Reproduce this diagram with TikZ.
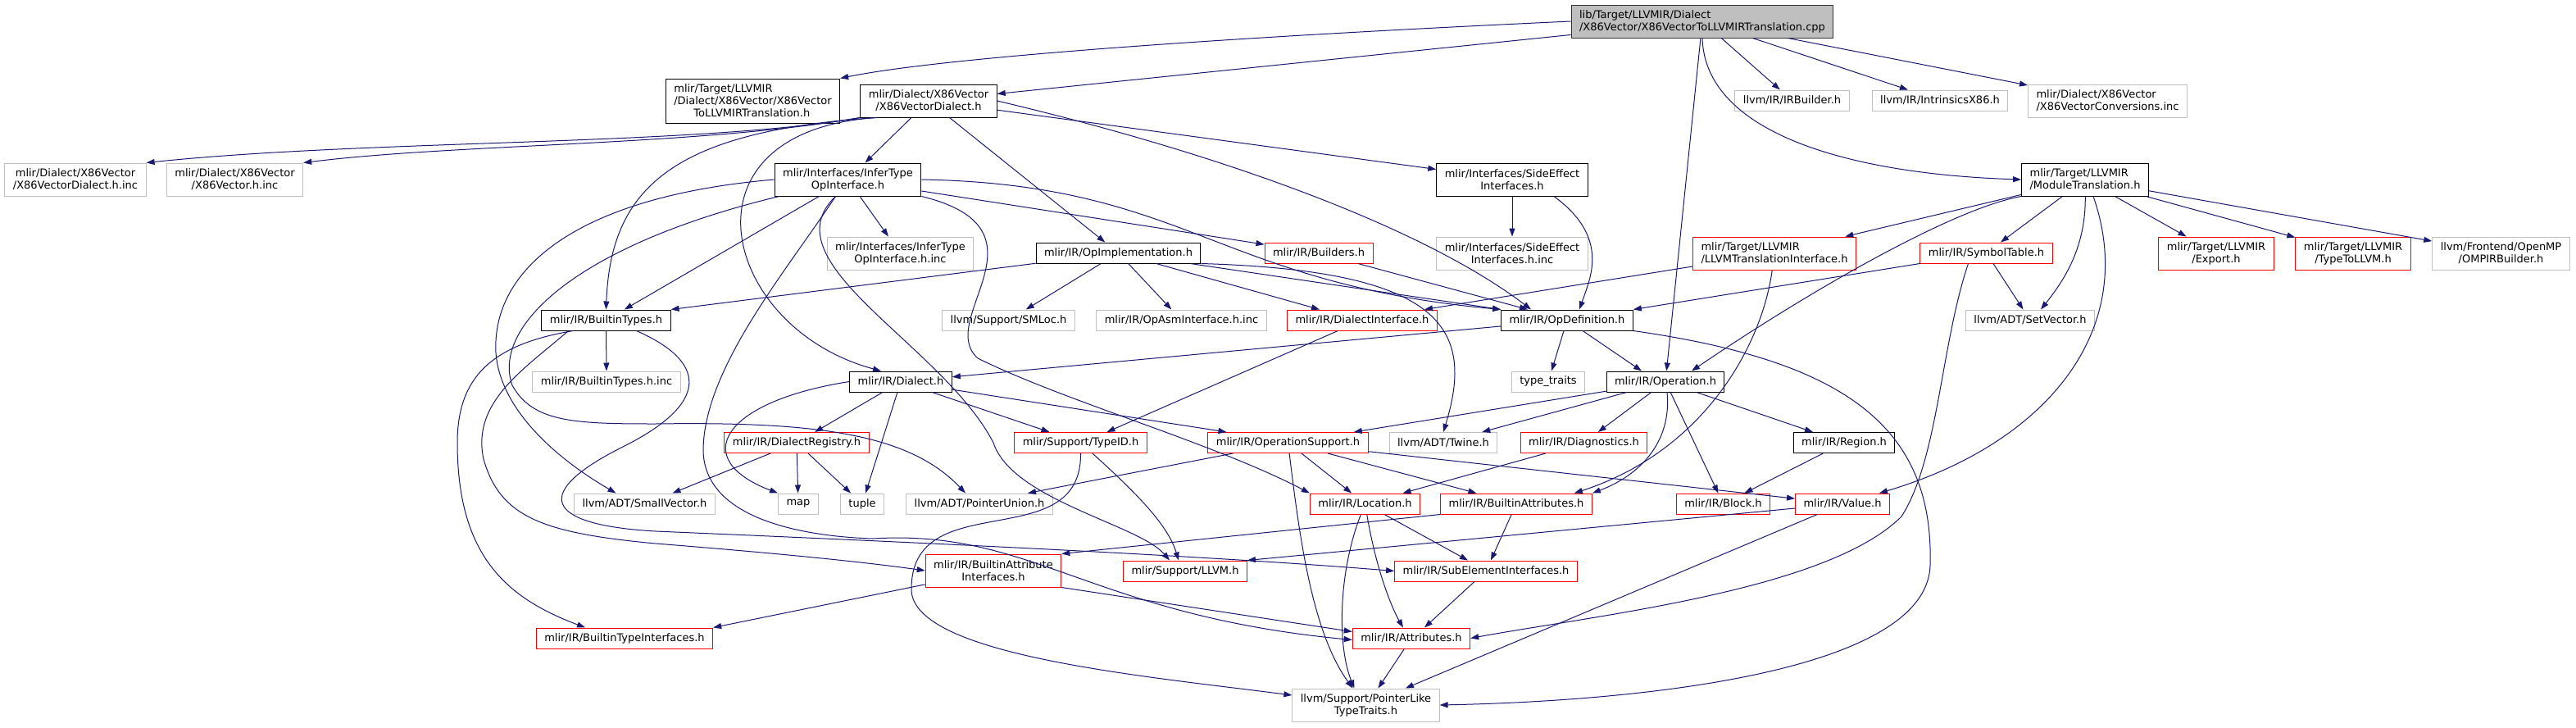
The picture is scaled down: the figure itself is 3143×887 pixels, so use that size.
\documentclass[tikz,border=0pt]{standalone}
\usepackage{fontspec}
\setmainfont{DejaVu Sans}
\usetikzlibrary{arrows.meta}
\definecolor{doxblue}{HTML}{191970}
\definecolor{doxgray}{HTML}{BFBFBF}
\newcommand{\dotfont}{\fontsize{13pt}{15pt}\selectfont}
\begin{document}
\begin{tikzpicture}[
    x=1pt, y=-1pt,
    box/.style={
        rectangle, draw, line width=1pt, fill=white,
        inner xsep=10pt, inner ysep=0pt, minimum height=25pt,
        align=center, font=\dotfont
    },
    twolines/.style={minimum height=40pt},
    threelines/.style={minimum height=54pt},
    mainfile/.style={box, draw=black!80, fill=doxgray},
    localhdr/.style={box, draw=black},
    externhdr/.style={box, draw=doxgray},
    clipped/.style={box, draw=red},
    dep/.style={-{Triangle[length=10pt,width=7pt]}, draw=doxblue, line width=1pt}
]
\useasboundingbox (0,0) rectangle (3143,887);

% Row 0: the translation unit
\node[mainfile, twolines, align=left] (top) at (2077,26) {lib/Target/LLVMIR/Dialect\\/X86Vector/X86VectorToLLVMIRTranslation.cpp};

% Row 1
\node[localhdr, threelines, align=left] (transh) at (918.5,123) {mlir/Target/LLVMIR\\/Dialect/X86Vector/X86Vector\\\hspace*{24pt}ToLLVMIRTranslation.h};
\node[localhdr, twolines] (xd) at (1133,123) {mlir/Dialect/X86Vector\\/X86VectorDialect.h};
\node[externhdr] (irb) at (2186.5,122.5) {llvm/IR/IRBuilder.h};
\node[externhdr] (intr) at (2367,122.5) {llvm/IR/IntrinsicsX86.h};
\node[externhdr, twolines, align=left] (conv) at (2571.5,123) {mlir/Dialect/X86Vector\\/X86VectorConversions.inc};

% Row 2
\node[externhdr, twolines] (xdinc) at (92,219) {mlir/Dialect/X86Vector\\/X86VectorDialect.h.inc};
\node[externhdr, twolines] (xvinc) at (286.5,219) {mlir/Dialect/X86Vector\\/X86Vector.h.inc};
\node[localhdr, twolines] (it) at (1034.5,219) {mlir/Interfaces/InferType\\OpInterface.h};
\node[localhdr, twolines] (side) at (1845,219) {mlir/Interfaces/SideEffect\\Interfaces.h};
\node[localhdr, twolines, align=left] (modtr) at (2544,219) {mlir/Target/LLVMIR\\/ModuleTranslation.h};

% Row 3
\node[externhdr, twolines] (itinc) at (1098.5,309) {mlir/Interfaces/InferType\\OpInterface.h.inc};
\node[localhdr] (opimpl) at (1364.5,308.5) {mlir/IR/OpImplementation.h};
\node[clipped] (builders) at (1609,308.5) {mlir/IR/Builders.h};
\node[externhdr, twolines] (sideinc) at (1845,309) {mlir/Interfaces/SideEffect\\Interfaces.h.inc};
\node[clipped, twolines, align=left] (llvmti) at (2165,309) {mlir/Target/LLVMIR\\/LLVMTranslationInterface.h};
\node[clipped] (symtab) at (2423.5,308.5) {mlir/IR/SymbolTable.h};
\node[clipped, twolines] (export) at (2704,309) {mlir/Target/LLVMIR\\/Export.h};
\node[clipped, twolines] (typetollvm) at (2871,309) {mlir/Target/LLVMIR\\/TypeToLLVM.h};
\node[externhdr, twolines] (ompir) at (3051.5,309) {llvm/Frontend/OpenMP\\/OMPIRBuilder.h};

% Row 4
\node[localhdr] (btypes) at (739.5,390.5) {mlir/IR/BuiltinTypes.h};
\node[externhdr] (smloc) at (1230.5,390.5) {llvm/Support/SMLoc.h};
\node[externhdr] (opasm) at (1441.5,390.5) {mlir/IR/OpAsmInterface.h.inc};
\node[clipped] (dialif) at (1662,390.5) {mlir/IR/DialectInterface.h};
\node[localhdr] (opdef) at (1912,390.5) {mlir/IR/OpDefinition.h};
\node[externhdr] (setvec) at (2477,390.5) {llvm/ADT/SetVector.h};

% Row 5
\node[externhdr] (btinc) at (740,465.5) {mlir/IR/BuiltinTypes.h.inc};
\node[localhdr] (dialect) at (1099,465.5) {mlir/IR/Dialect.h};
\node[externhdr] (ttraits) at (1889,465.5) {type\_traits};
\node[localhdr] (operation) at (2032,465.5) {mlir/IR/Operation.h};

% Row 6
\node[clipped] (dreg) at (972,540) {mlir/IR/DialectRegistry.h};
\node[clipped] (typeid) at (1318.5,540) {mlir/Support/TypeID.h};
\node[clipped] (opsup) at (1571.5,540) {mlir/IR/OperationSupport.h};
\node[externhdr] (twine) at (1761,540) {llvm/ADT/Twine.h};
\node[clipped] (diag) at (1932.5,540) {mlir/IR/Diagnostics.h};
\node[localhdr] (region) at (2250,540) {mlir/IR/Region.h};

% Row 7
\node[externhdr] (smallvec) at (786.5,614.5) {llvm/ADT/SmallVector.h};
\node[externhdr] (map) at (974,614.5) {map};
\node[externhdr] (tuple) at (1052,614.5) {tuple};
\node[externhdr] (punion) at (1195,614.5) {llvm/ADT/PointerUnion.h};
\node[clipped] (location) at (1665.5,614.5) {mlir/IR/Location.h};
\node[clipped] (battr) at (1850,614.5) {mlir/IR/BuiltinAttributes.h};
\node[clipped] (block) at (2102.5,614.5) {mlir/IR/Block.h};
\node[clipped] (value) at (2248,614.5) {mlir/IR/Value.h};

% Row 8
\node[clipped, twolines] (baif) at (1212,696) {mlir/IR/BuiltinAttribute\\Interfaces.h};
\node[clipped] (llvmh) at (1446,696.5) {mlir/Support/LLVM.h};
\node[clipped] (subel) at (1813,696.5) {mlir/IR/SubElementInterfaces.h};

% Row 9
\node[clipped] (btif) at (762,778.5) {mlir/IR/BuiltinTypeInterfaces.h};
\node[clipped] (attrs) at (1722,778.5) {mlir/IR/Attributes.h};

% Row 10
\node[externhdr, twolines] (plike) at (1666.5,860) {llvm/Support/PointerLike\\TypeTraits.h};

% Includes of the .cpp file
\draw[dep] (top.west) .. controls (1500,45) and (1150,70) .. (transh.north east);
\draw[dep] (top) -- (xd);
\draw[dep] (top) -- (irb);
\draw[dep] (top) -- (intr);
\draw[dep] (top) -- (conv);
\draw[dep] (top) -- (operation);
\draw[dep] (top.south) .. controls (2080,160) and (2250,212) .. (modtr.west);

% X86VectorDialect.h
\draw[dep] (xd.south west) .. controls (850,178) and (450,170) .. (xdinc.north east);
\draw[dep] (xd.south west) .. controls (850,178) and (560,175) .. (xvinc.north east);
\draw[dep] ([xshift=20pt]xd.south west) .. controls (820,160) and (745,230) .. (btypes.north);
\draw[dep] (xd) -- (it);
\draw[dep] (xd) -- (opimpl);
\draw[dep] (xd) -- (side);
\draw[dep] (xd.east) .. controls (1500,190) and (1740,280) .. ([xshift=-44pt]opdef.north);
\draw[dep] ([xshift=20pt]xd.south west) .. controls (820,160) and (880,400) .. ([xshift=-24pt]dialect.north);

% InferTypeOpInterface.h
\draw[dep] (it) -- (itinc);
\draw[dep] (it) -- (btypes);
\draw[dep] (it) -- (builders);
\draw[dep] (it.east) .. controls (1450,225) and (1480,345) .. (opdef.north west);
\draw[dep] (it.west) .. controls (700,240) and (600,330) .. (605,430) .. controls (610,500) and (680,560) .. ([xshift=-35pt]smallvec.north);
\draw[dep] ([xshift=6pt]it.south west) .. controls (700,300) and (600,400) .. (625,470) .. controls (650,515) and (700,517) .. (800,517) .. controls (1000,514) and (1110,530) .. ([xshift=-17pt]punion.north);
\draw[dep] ([xshift=-15pt]it.south) .. controls (960,330) and (858,450) .. (858,550) .. controls (860,640) and (1000,655) .. (1065,657) .. controls (1260,645) and (1330,750) .. ([yshift=-2pt]attrs.west);
\draw[dep] ([xshift=-15pt]it.south) .. controls (935,320) and (1150,420) .. (1212,540) .. controls (1235,610) and (1390,640) .. ([xshift=-19pt]llvmh.north);
\draw[dep] (it.south east) .. controls (1290,280) and (1140,390) .. (1193,437) .. controls (1300,490) and (1480,540) .. (location.north west);

% OpImplementation.h
\draw[dep] (opimpl) -- (btypes.north east);
\draw[dep] (opimpl) -- (smloc);
\draw[dep] (opimpl) -- (opasm);
\draw[dep] (opimpl) -- ([xshift=-52pt]dialif.north);
\draw[dep] (opimpl) -- (opdef.north west);
\draw[dep] (opimpl.south east) .. controls (1760,330) and (1800,400) .. (twine.north);

% Builders.h and SideEffectInterfaces.h
\draw[dep] (builders) -- (opdef);
\draw[dep] (side) -- (sideinc);
\draw[dep] ([xshift=51pt]side.south) .. controls (1965,290) and (1940,340) .. ([xshift=15pt]opdef.north);

% ModuleTranslation.h
\draw[dep] (modtr) -- (llvmti);
\draw[dep] (modtr) -- (symtab);
\draw[dep] (modtr) .. controls (2545,300) and (2520,340) .. ([xshift=13pt]setvec.north);
\draw[dep] (modtr.south west) .. controls (2380,255) and (2200,360) .. ([xshift=32pt]operation.north);
\draw[dep] ([xshift=10pt]modtr.south) .. controls (2610,400) and (2500,540) .. ([xshift=-13pt]value.north east);
\draw[dep] (modtr) -- (export);
\draw[dep] (modtr) -- (typetollvm);
\draw[dep] (modtr) -- (ompir);

% LLVMTranslationInterface.h and SymbolTable.h
\draw[dep] (llvmti) -- ([xshift=76pt]dialif.north);
\draw[dep] (llvmti) .. controls (2150,420) and (2080,550) .. ([xshift=-22pt]battr.north east);
\draw[dep] (symtab) -- (opdef.north east);
\draw[dep] (symtab) -- (setvec);
\draw[dep] ([xshift=-22pt]symtab.south) .. controls (2368,420) and (2365,560) .. (2320,630) .. controls (2230,720) and (1950,750) .. (attrs.east);

% OpDefinition.h
\draw[dep] (opdef) -- ([xshift=-29pt]operation.north);
\draw[dep] (opdef) -- (ttraits);
\draw[dep] (opdef) -- (dialect);
\draw[dep] (opdef.south east) .. controls (2250,440) and (2360,520) .. (2355,690) .. controls (2350,820) and (2000,855) .. (plike.east);

% Operation.h
\draw[dep] (operation) -- (opsup);
\draw[dep] (operation) -- (twine);
\draw[dep] (operation) -- (diag);
\draw[dep] ([xshift=2pt]operation.south) .. controls (2040,540) and (2000,580) .. (battr.north east);
\draw[dep] (operation) -- (block);
\draw[dep] (operation) -- (region);

% Dialect.h and DialectRegistry.h
\draw[dep] (dialect) -- (dreg);
\draw[dep] (dialect.west) .. controls (880,490) and (840,560) .. (map.north west);
\draw[dep] (dialect) -- (tuple);
\draw[dep] (dialect) -- ([xshift=-38pt]typeid.north);
\draw[dep] (dialect) -- ([xshift=-75pt]opsup.north);
\draw[dep] (dreg) -- ([xshift=34pt]smallvec.north);
\draw[dep] (dreg) -- (map);
\draw[dep] (dreg) -- (tuple);
\draw[dep] (dialif) -- ([xshift=32pt]typeid.north);

% TypeID.h and OperationSupport.h
\draw[dep] (typeid) .. controls (1385,600) and (1425,640) .. ([xshift=-8pt]llvmh.north);
\draw[dep] (typeid.south) .. controls (1320,680) and (1110,590) .. (1112,720) .. controls (1115,800) and (1400,825) .. ([yshift=12pt]plike.west);
\draw[dep] (opsup) -- ([xshift=59pt]punion.north);
\draw[dep] (opsup) -- (location);
\draw[dep] (opsup) -- (battr);
\draw[dep] (opsup) -- (value);
\draw[dep] (opsup) .. controls (1585,650) and (1600,770) .. ([xshift=-16pt]plike.north);
\draw[dep] (diag) -- ([xshift=46pt]location.north);
\draw[dep] (region) -- ([xshift=26pt]block.north);

% Location.h, BuiltinAttributes.h, Value.h
\draw[dep] (location) .. controls (1632,700) and (1632,790) .. ([xshift=-14pt]plike.north);
\draw[dep] (location) .. controls (1680,700) and (1700,745) .. ([xshift=-10pt]attrs.north);
\draw[dep] (location) -- ([xshift=-22pt]subel.north);
\draw[dep] (battr.south west) -- (baif.north east);
\draw[dep] (battr) -- ([xshift=6pt]subel.north);
\draw[dep] (value) -- (plike);
\draw[dep] (value) -- (llvmh.north east);

% Lower layers
\draw[dep] (subel) -- ([xshift=16pt]attrs.north);
\draw[dep] (baif) -- (btif.north east);
\draw[dep] (baif.south east) -- ([yshift=8pt]attrs.west);
\draw[dep] (attrs) -- ([xshift=15pt]plike.north);

% BuiltinTypes.h
\draw[dep] (btypes) -- (btinc);
\draw[dep] ([xshift=-40pt]btypes.south) .. controls (600,420) and (558,460) .. (558,540) .. controls (558,680) and (620,730) .. ([xshift=-48pt]btif.north);
\draw[dep] ([xshift=-46pt]btypes.south) .. controls (640,450) and (575,490) .. (590,560) .. controls (610,630) and (660,650) .. (800,663) .. controls (950,675) and (1050,685) .. (baif.west);
\draw[dep] ([xshift=37pt]btypes.south) .. controls (860,440) and (870,490) .. (760,545) .. controls (650,600) and (660,640) .. (800,648) .. controls (1200,665) and (1500,680) .. (subel.west);

\end{tikzpicture}
\end{document}
